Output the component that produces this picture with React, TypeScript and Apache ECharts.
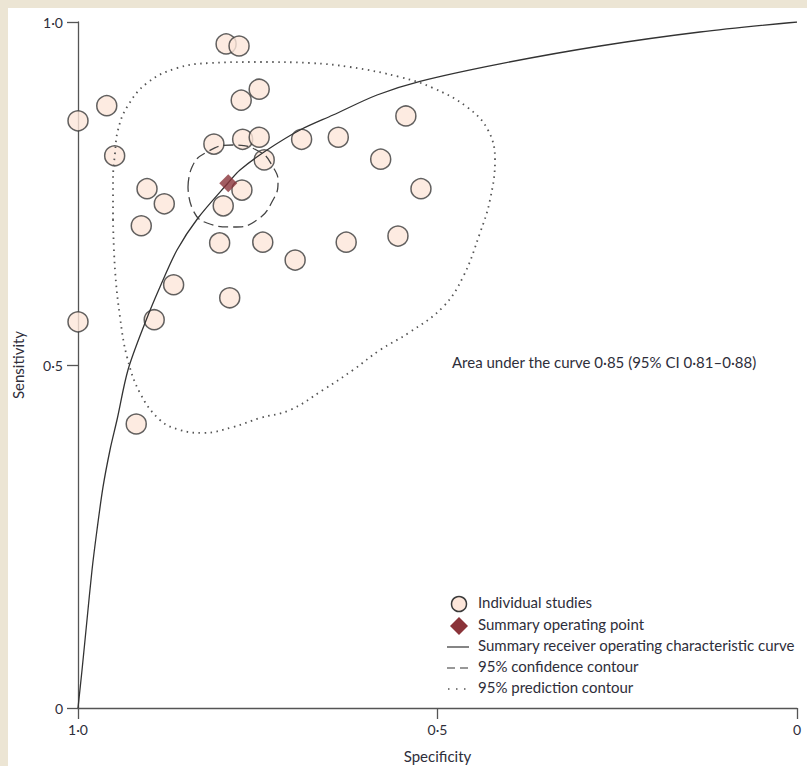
import React, { useEffect, useRef } from "react";
import * as echarts from "echarts";

// Individual studies: [specificity, sensitivity]
const studies: number[][] = [
  [1.0, 0.856], [1.0, 0.563], [0.960, 0.878], [0.949, 0.805], [0.904, 0.757],
  [0.880, 0.735], [0.912, 0.703], [0.867, 0.617], [0.894, 0.566], [0.919, 0.414],
  [0.794, 0.968], [0.776, 0.965], [0.773, 0.886], [0.748, 0.902], [0.811, 0.822],
  [0.771, 0.829], [0.748, 0.832], [0.741, 0.799], [0.772, 0.755], [0.798, 0.732],
  [0.803, 0.678], [0.743, 0.679], [0.789, 0.598], [0.698, 0.653], [0.689, 0.829],
  [0.638, 0.832], [0.579, 0.800], [0.544, 0.863], [0.523, 0.757], [0.627, 0.679],
  [0.555, 0.688],
];

const summaryPoint: number[][] = [[0.791, 0.765]];

// SROC curve points
const srocCurve: number[][] = [
  [1.0, 0.0], [0.9944, 0.0554], [0.9875, 0.1283], [0.9805, 0.2012], [0.9736, 0.2595],
  [0.9652, 0.3222], [0.9555, 0.3761], [0.9458, 0.4198], [0.9305, 0.4927], [0.9068, 0.5612],
  [0.886, 0.6137], [0.8623, 0.6676], [0.8331, 0.7143], [0.7914, 0.7653], [0.7747, 0.7843],
  [0.7371, 0.8134], [0.6912, 0.8426], [0.6453, 0.8644], [0.5841, 0.8936], [0.5243, 0.9135],
  [0.4131, 0.9390], [0.274, 0.9650], [0.1349, 0.9854], [0.0, 1.0],
];

// 95% confidence contour
const confidenceContour: number[][] = [
  [0.847, 0.7595], [0.8414, 0.7886], [0.8206, 0.8105], [0.7844, 0.8207], [0.7469, 0.8105],
  [0.7288, 0.7886], [0.7218, 0.7668], [0.7288, 0.7405], [0.751, 0.7114], [0.7844, 0.7012],
  [0.8206, 0.707], [0.8401, 0.7259], [0.847, 0.7595],
];

// 95% prediction contour
const predictionContour: number[][] = [
  [0.9513, 0.7114], [0.9513, 0.7697], [0.9485, 0.809], [0.9444, 0.8426], [0.9318, 0.8761],
  [0.904, 0.9111], [0.8623, 0.9329], [0.8164, 0.9402], [0.7469, 0.9417], [0.6773, 0.9402],
  [0.6217, 0.9344], [0.5522, 0.9198], [0.5063, 0.9038], [0.459, 0.8761], [0.4298, 0.8426],
  [0.42, 0.7988], [0.427, 0.7405], [0.4409, 0.6924], [0.4645, 0.6283], [0.4924, 0.5845],
  [0.5382, 0.5481], [0.58, 0.5219], [0.6175, 0.4927], [0.6592, 0.4636], [0.7051, 0.4344],
  [0.7469, 0.4227], [0.7844, 0.4096], [0.8261, 0.4009], [0.8581, 0.4052], [0.886, 0.4198],
  [0.9138, 0.4592], [0.9318, 0.5117], [0.9416, 0.57], [0.9485, 0.6385], [0.9513, 0.7114],
];

const tickLabels: Record<string, string> = { "0": "0", "0.5": "0·5", "1": "1·0" };

const legendLabels = [
  "Individual studies",
  "Summary operating point",
  "Summary receiver operating characteristic curve",
  "95% confidence contour",
  "95% prediction contour",
];

const annotation = "Area under the curve 0·85 (95% CI 0·81–0·88)";

const FONT = "Lato, 'Open Sans', sans-serif";
const TEXT = "#2e2e3a";
const AXIS = "#555555";
const FILL = "#fde6da";
const STROKE = "#3a3a3a";
const DIAMOND = "#8a3339";

export default function App() {
  const ref = useRef<HTMLDivElement>(null);

  useEffect(() => {
    if (!ref.current) return;
    const chart = echarts.init(ref.current, null, { renderer: "svg" });

    const legendX = 470;
    const legendY = [596, 618, 639, 660, 681];
    const iconX = 451;

    chart.setOption({
      animation: false,
      backgroundColor: "#ffffff",
      textStyle: { fontFamily: FONT },
      grid: { left: 70, right: 10, top: 14, bottom: 58, containLabel: false, outerBoundsMode: "none" },
      xAxis: {
        type: "value",
        min: 0,
        max: 1,
        interval: 0.5,
        inverse: true,
        position: "bottom",
        name: "Specificity",
        nameLocation: "middle",
        nameGap: 40,
        nameTextStyle: { fontFamily: FONT, fontSize: 15, color: TEXT },
        axisLine: { show: true, onZero: false, lineStyle: { color: AXIS, width: 1.3 } },
        axisTick: { show: true, length: 11, lineStyle: { color: AXIS, width: 1.3 } },
        axisLabel: {
          fontFamily: FONT,
          fontSize: 14,
          color: TEXT,
          margin: 14,
          formatter: (v: number) => tickLabels[String(v)] ?? String(v),
        },
        splitLine: { show: false },
      },
      yAxis: {
        type: "value",
        min: 0,
        max: 1,
        interval: 0.5,
        position: "left",
        name: "Sensitivity",
        nameLocation: "middle",
        nameGap: 53,
        nameTextStyle: { fontFamily: FONT, fontSize: 15, color: TEXT },
        axisLine: { show: true, onZero: false, lineStyle: { color: AXIS, width: 1.3 } },
        axisTick: { show: true, length: 11, lineStyle: { color: AXIS, width: 1.3 } },
        axisLabel: {
          fontFamily: FONT,
          fontSize: 14,
          color: TEXT,
          margin: 15,
          formatter: (v: number) => tickLabels[String(v)] ?? String(v),
        },
        splitLine: { show: false },
      },
      series: [
        {
          name: legendLabels[0],
          type: "scatter",
          data: studies,
          symbol: "circle",
          symbolSize: 20,
          z: 2,
          itemStyle: { color: FILL, borderColor: STROKE, borderWidth: 1.5 },
        },
        {
          name: legendLabels[2],
          type: "line",
          data: srocCurve,
          smooth: 0.3,
          showSymbol: false,
          z: 3,
          lineStyle: { color: "#333333", width: 1.3 },
        },
        {
          name: legendLabels[3],
          type: "line",
          data: confidenceContour,
          smooth: 0.5,
          showSymbol: false,
          z: 3,
          lineStyle: { color: "#444444", width: 1.3, type: [10, 5] },
        },
        {
          name: legendLabels[4],
          type: "line",
          data: predictionContour,
          smooth: 0.4,
          showSymbol: false,
          z: 3,
          lineStyle: { color: "#555555", width: 1.8, type: [1.5, 4.5] },
        },
        {
          name: legendLabels[1],
          type: "scatter",
          data: summaryPoint,
          symbol: "diamond",
          symbolSize: [18, 18],
          z: 4,
          itemStyle: { color: DIAMOND },
        },
      ],
      graphic: [
        {
          type: "text",
          left: 444,
          top: 356 - 10,
          style: { text: annotation, font: `15px ${FONT}`, fill: TEXT },
        },
        {
          type: "circle",
          shape: { cx: iconX, cy: legendY[0], r: 7.5 },
          style: { fill: FILL, stroke: STROKE, lineWidth: 1.5 },
        },
        {
          type: "polygon",
          shape: {
            points: [
              [iconX, legendY[1] - 9],
              [iconX + 9, legendY[1]],
              [iconX, legendY[1] + 9],
              [iconX - 9, legendY[1]],
            ],
          },
          style: { fill: DIAMOND },
        },
        {
          type: "line",
          shape: { x1: 439, y1: legendY[2], x2: 461, y2: legendY[2] },
          style: { stroke: "#333", lineWidth: 1.2 },
        },
        {
          type: "line",
          shape: { x1: 439, y1: legendY[3], x2: 461, y2: legendY[3] },
          style: { stroke: "#333", lineWidth: 1.2, lineDash: [8, 5] },
        },
        {
          type: "line",
          shape: { x1: 440, y1: legendY[4], x2: 462, y2: legendY[4] },
          style: { stroke: "#555", lineWidth: 1.6, lineDash: [1.5, 6.5] },
        },
        ...legendLabels.map((t, i) => ({
          type: "text",
          left: legendX,
          top: legendY[i] - 10,
          style: { text: t, font: `15px ${FONT}`, fill: TEXT },
        })),
      ],
    });

    return () => chart.dispose();
  }, []);

  return (
    <div
      style={{
        position: "fixed",
        left: 0,
        top: 0,
        width: 807,
        height: 766,
        background: "#ece5d4",
        overflow: "hidden",
      }}
    >
      <div
        ref={ref}
        style={{
          position: "absolute",
          left: 8,
          top: 8,
          width: 799,
          height: 758,
          background: "#ffffff",
        }}
      />
    </div>
  );
}
